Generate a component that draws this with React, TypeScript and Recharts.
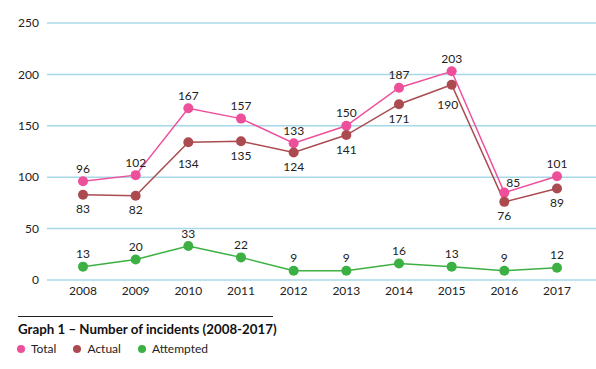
import React from 'react';
import { LineChart, Line, XAxis, YAxis, CartesianGrid, LabelList } from 'recharts';

const years = ['2008', '2009', '2010', '2011', '2012', '2013', '2014', '2015', '2016', '2017'];
const total = [96, 102, 167, 157, 133, 150, 187, 203, 85, 101];
const actual = [83, 82, 134, 135, 124, 141, 171, 190, 76, 89];
const attempted = [13, 20, 33, 22, 9, 9, 16, 13, 9, 12];
const yTicks = [0, 50, 100, 150, 200, 250];

const PINK = '#ee4f9b';
const BROWN = '#ab4b50';
const GREEN = '#3cb043';
const FONT = 'Lato, "Open Sans", sans-serif';

const data = years.map((year, i) => ({
  year,
  total: total[i],
  actual: actual[i],
  attempted: attempted[i],
}));

// label offsets: [dx, dy] relative to the point
const aboveLabel = (special: Record<number, [number, number]>) => (props: any) => {
  const { x, y, value, index } = props;
  const [dx, dy] = special[index] || [0, -13];
  return (
    <text x={x + dx} y={y + dy} textAnchor="middle" dominantBaseline="central" fontSize={12} fill="#222" fontFamily={FONT}>
      {value}
    </text>
  );
};

const belowLabel = (special: Record<number, [number, number]>) => (props: any) => {
  const { x, y, value, index } = props;
  const [dx, dy] = special[index] || [0, 14];
  return (
    <text x={x + dx} y={y + dy} textAnchor="middle" dominantBaseline="central" fontSize={12} fill="#222" fontFamily={FONT}>
      {value}
    </text>
  );
};

const legendItems = [
  { name: 'Total', color: PINK },
  { name: 'Actual', color: BROWN },
  { name: 'Attempted', color: GREEN },
];

export default function App() {
  return (
    <div style={{ position: 'absolute', left: 0, top: 0, width: 596, height: 369, background: '#fff', fontFamily: FONT }}>
      <LineChart width={596} height={300} data={data} margin={{ top: 23, right: 0, left: 0, bottom: 0 }}>
        <CartesianGrid vertical={false} stroke="#a8d8e8" strokeWidth={1.5} />
        <XAxis
          dataKey="year"
          axisLine={false}
          tickLine={false}
          height={20}
          tickMargin={0}
          padding={{ left: 36, right: 39 }}
          tick={{ fontSize: 12, fill: '#222', fontFamily: FONT }}
          interval={0}
        />
        <YAxis
          width={47}
          domain={[0, 250]}
          ticks={yTicks}
          axisLine={false}
          tickLine={false}
          tick={{ fontSize: 12, fill: '#222', fontFamily: FONT }}
        />
        <Line dataKey="total" stroke={PINK} strokeWidth={1.5} dot={{ r: 5, fill: PINK, stroke: PINK, strokeWidth: 0 }} isAnimationActive={false}>
          <LabelList dataKey="total" content={aboveLabel({ 8: [9, -10] })} />
        </Line>
        <Line dataKey="actual" stroke={BROWN} strokeWidth={1.5} dot={{ r: 5, fill: BROWN, stroke: BROWN, strokeWidth: 0 }} isAnimationActive={false}>
          <LabelList dataKey="actual" content={belowLabel({ 2: [0, 21], 7: [-4, 20] })} />
        </Line>
        <Line dataKey="attempted" stroke={GREEN} strokeWidth={1.5} dot={{ r: 5, fill: GREEN, stroke: GREEN, strokeWidth: 0 }} isAnimationActive={false}>
          <LabelList dataKey="attempted" content={aboveLabel({})} />
        </Line>
      </LineChart>
      <div style={{ position: 'absolute', left: 18, top: 316, width: 255, borderTop: '1px solid #222' }} />
      <div style={{ position: 'absolute', left: 18, top: 321, fontSize: 13.3, fontWeight: 700, color: '#111', whiteSpace: 'nowrap' }}>
        Graph 1 – Number of incidents (2008-2017)
      </div>
      <div style={{ position: 'absolute', left: 17, top: 341, display: 'flex', fontSize: 12, color: '#222' }}>
        {legendItems.map((item) => (
          <div key={item.name} style={{ display: 'flex', alignItems: 'center', marginRight: 17 }}>
            <span style={{ width: 8, height: 8, borderRadius: 4, background: item.color, marginRight: 6 }} />
            <span>{item.name}</span>
          </div>
        ))}
      </div>
    </div>
  );
}
